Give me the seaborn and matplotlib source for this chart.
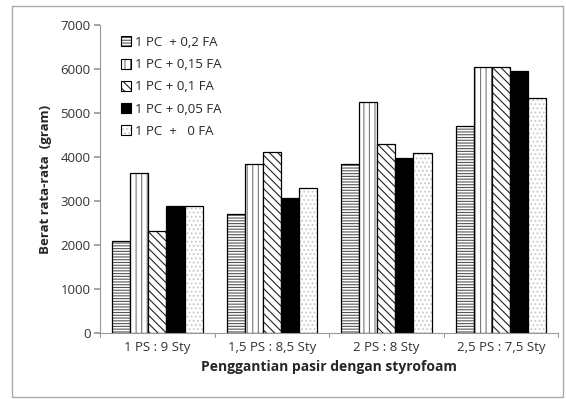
import matplotlib
matplotlib.use("Agg")
import matplotlib.pyplot as plt
import seaborn as sns
import pandas as pd
from matplotlib.patches import Rectangle

# Mix ratios (sand : styrofoam) on the x axis
categories = ["1 PS : 9 Sty", "1,5 PS : 8,5 Sty", "2 PS : 8 Sty", "2,5 PS : 7,5 Sty"]

# Fly-ash variants (legend entries)
series = ["1 PC  + 0,2 FA", "1 PC + 0,15 FA", "1 PC + 0,1 FA", "1 PC + 0,05 FA", "1 PC  +   0 FA"]

# Average weight (gram) per variant, one value per mix ratio
fa_020 = [2100, 2700, 3850, 4700]
fa_015 = [3650, 3840, 5250, 6040]
fa_010 = [2330, 4120, 4300, 6040]
fa_005 = [2900, 3070, 3980, 5950]
fa_000 = [2880, 3310, 4100, 5350]

yticks = [0, 1000, 2000, 3000, 4000, 5000, 6000, 7000]

values = [fa_020, fa_015, fa_010, fa_005, fa_000]
df = pd.DataFrame(
    [(c, s, v) for s, vals in zip(series, values) for c, v in zip(categories, vals)],
    columns=["mix", "variant", "weight"],
)

sns.set_theme(style="white")
plt.rcParams["font.family"] = ["Open Sans", "DejaVu Sans"]
plt.rcParams["hatch.linewidth"] = 0.8

fig = plt.figure(figsize=(5.66, 3.99), dpi=100)
ax = fig.add_axes([0.177, 0.165, 0.809, 0.772])

facecolors = ["white", "white", "white", "black", "white"]
hatches = ["------", "|||", "\\\\\\\\", "", "...."]
hatchcolors = ["#555555", "#777777", "#222222", "black", "#c8c8c8"]

sns.barplot(data=df, x="mix", y="weight", hue="variant", order=categories,
            hue_order=series, ax=ax, width=0.79, saturation=1,
            palette=["white"] * 5, edgecolor="black", linewidth=0.9, legend=True)

for cont, fc, h, hc in zip(ax.containers, facecolors, hatches, hatchcolors):
    for bar in cont:
        bar.set_facecolor(fc)
        bar.set_hatch(h)
        bar.set_edgecolor("black")
        bar._hatch_color = matplotlib.colors.to_rgba(hc)

handles = []
for fc, h, hc in zip(facecolors, hatches, hatchcolors):
    p = Rectangle((0, 0), 1, 1, facecolor=fc, hatch=h, edgecolor="black", linewidth=0.8)
    p._hatch_color = matplotlib.colors.to_rgba(hc)
    handles.append(p)
ax.legend(handles, series, loc="upper left", bbox_to_anchor=(0.025, 0.995), frameon=False,
          fontsize=9.5, handlelength=0.8, handleheight=0.8, handletextpad=0.3,
          labelspacing=0.7, borderaxespad=0.3)

ax.set_ylim(0, 7000)
ax.set_yticks(yticks)
ax.set_yticklabels([str(t) for t in yticks], fontsize=9.5, color="#333333")
ax.tick_params(axis="x", labelsize=9.5, colors="#333333", length=0, pad=6)
ax.tick_params(axis="y", length=4, color="#999999", direction="out", left=True, pad=3)
ax.set_xlim(-0.5, 3.5)
# category separator ticks on the x axis
for xb in [-0.5, 0.5, 1.5, 2.5, 3.5]:
    ax.plot([xb, xb], [0, -90], color="#999999", lw=0.8, clip_on=False)

ax.set_xlabel("Penggantian pasir dengan styrofoam", fontsize=10, fontweight="bold", labelpad=4)
ax.set_ylabel("Berat rata-rata  (gram)", fontsize=9.5, fontweight="bold", labelpad=6)

for side in ["top", "right"]:
    ax.spines[side].set_visible(False)
for side in ["left", "bottom"]:
    ax.spines[side].set_color("#999999")
    ax.spines[side].set_linewidth(0.8)

fig.patches.append(Rectangle((0.021, 0.006), 0.974, 0.98, transform=fig.transFigure,
                             fill=False, edgecolor="#aaaaaa", linewidth=1.0))

fig.savefig("out.png", dpi=100)
